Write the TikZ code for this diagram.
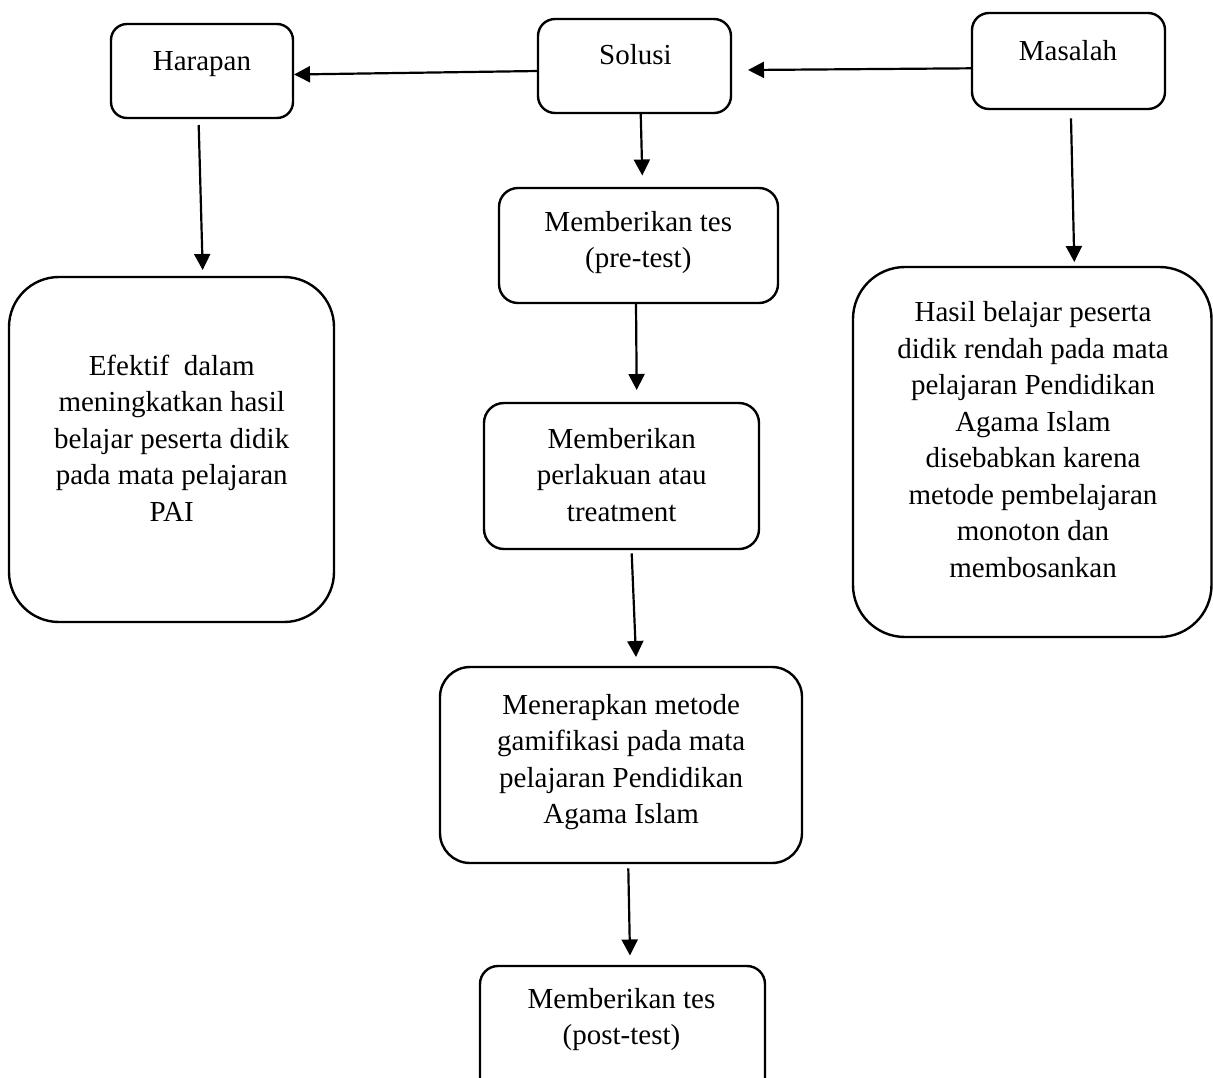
\documentclass[tikz,border=0pt]{standalone}
\usepackage{fontspec}
\setmainfont{Liberation Serif}
\usetikzlibrary{arrows.meta}
\newcommand\mylines[1]{\vtop{\halign{\hfil##\hfil\cr#1\crcr}}}
\begin{document}
\begin{tikzpicture}[x=1pt,y=-1pt,
  boxshape/.style={draw, line width=2.4pt, inner sep=0pt, outer sep=0pt},
  lbl/.style={inner sep=0pt, outer sep=0pt, anchor=base, font=\fontsize{29}{36.5}\selectfont},
  conn/.style={line width=2.2pt, -{Triangle[length=16pt,width=16pt]}}]
\useasboundingbox (0,0) rectangle (1213,1077);
\clip (0,0) rectangle (1213,1077);

% boxes
\node[boxshape, rounded corners=16pt, minimum width=182pt, minimum height=94pt] (harapan) at (202,71) {};
\node[boxshape, rounded corners=17pt, minimum width=193pt, minimum height=94pt] (solusi) at (634.5,66) {};
\node[boxshape, rounded corners=17pt, minimum width=193pt, minimum height=96pt] (masalah) at (1068.5,61) {};
\node[boxshape, rounded corners=19pt, minimum width=279pt, minimum height=115pt] (pre) at (638.5,245.5) {};
\node[boxshape, rounded corners=50pt, minimum width=325pt, minimum height=345pt] (efektif) at (171.5,449.5) {};
\node[boxshape, rounded corners=52pt, minimum width=358.5pt, minimum height=370pt] (hasil) at (1032.25,452) {};
\node[boxshape, rounded corners=20pt, minimum width=275pt, minimum height=146pt] (perlakuan) at (621.5,476) {};
\node[boxshape, rounded corners=30pt, minimum width=362pt, minimum height=196pt] (menerapkan) at (621,765) {};
\node[boxshape, rounded corners=18pt, minimum width=285pt, minimum height=134pt] (post) at (622.5,1033) {};

% texts
\node[lbl] (harapanT) at (202,70.7) {Harapan};
\node[lbl] (solusiT) at (635.5,64) {Solusi};
\node[lbl] (masalahT) at (1068,60.7) {Masalah};
\node[lbl] (preT) at (638.3,231) {\mylines{Memberikan tes\cr (pre-test)}};
\node[lbl] (efektifT) at (171.7,375) {\mylines{Efektif\ \ dalam\cr meningkatkan hasil\cr belajar peserta didik\cr pada mata pelajaran\cr PAI}};
\node[lbl] (hasilT) at (1033,321.7) {\mylines{Hasil belajar peserta\cr didik rendah pada mata\cr pelajaran Pendidikan\cr Agama Islam\cr disebabkan karena\cr metode pembelajaran\cr monoton dan\cr membosankan}};
\node[lbl] (perlakuanT) at (621.7,448.3) {\mylines{Memberikan\cr perlakuan atau\cr treatment}};
\node[lbl] (menerapkanT) at (621.2,714) {\mylines{Menerapkan metode\cr gamifikasi pada mata\cr pelajaran Pendidikan\cr Agama Islam}};
\node[lbl] (postT) at (621.5,1008.3) {\mylines{Memberikan tes\cr (post-test)}};

% connector end points
\coordinate (a1s) at (538,71);    \coordinate (a1e) at (294,74.5);
\coordinate (a2s) at (972,68.3);  \coordinate (a2e) at (748,70);
\coordinate (a3s) at (198.7,125); \coordinate (a3e) at (202.7,270);
\coordinate (a4s) at (640.7,113); \coordinate (a4e) at (642.3,175.5);
\coordinate (a5s) at (1071,118.3);\coordinate (a5e) at (1074.3,262);
\coordinate (a6s) at (636,303);   \coordinate (a6e) at (636.7,390);
\coordinate (a7s) at (631.7,553.3);\coordinate (a7e) at (636,657);
\coordinate (a8s) at (628.3,868.3);\coordinate (a8e) at (630,955.5);

% connectors
\draw[conn] (a1s) -- (a1e);
\draw[conn] (a2s) -- (a2e);
\draw[conn] (a3s) -- (a3e);
\draw[conn] (a4s) -- (a4e);
\draw[conn] (a5s) -- (a5e);
\draw[conn] (a6s) -- (a6e);
\draw[conn] (a7s) -- (a7e);
\draw[conn] (a8s) -- (a8e);
\end{tikzpicture}
\end{document}
